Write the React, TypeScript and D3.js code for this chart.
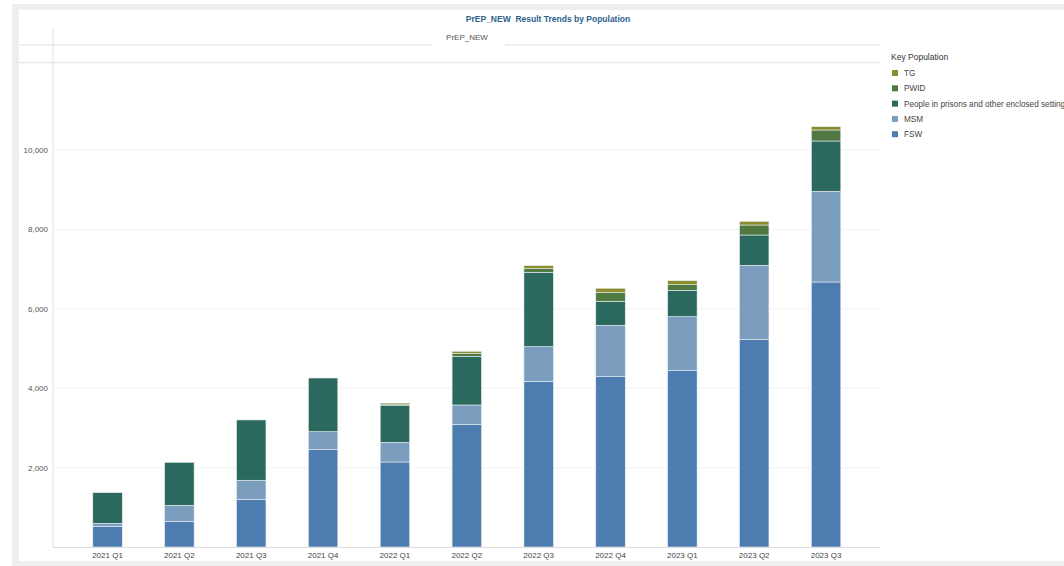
import React from "react";
import * as d3 from "d3";

const quarters = ["2021 Q1","2021 Q2","2021 Q3","2021 Q4","2022 Q1","2022 Q2","2022 Q3","2022 Q4","2023 Q1","2023 Q2","2023 Q3"];
const fsw = [521, 647, 1202, 2451, 2141, 3091, 4174, 4290, 4441, 5232, 6675];
const msm = [76, 403, 479, 453, 496, 486, 872, 1295, 1360, 1864, 2285];
const prisons = [771, 1083, 1519, 1353, 922, 1227, 1874, 605, 665, 763, 1267];
const pwid = [0, 0, 0, 0, 40, 76, 91, 227, 141, 252, 277];
const tg = [0, 0, 0, 0, 28, 50, 76, 101, 101, 93, 83];
const yTicks = [2000, 4000, 6000, 8000, 10000];

const seriesKeys = ["FSW", "MSM", "People in prisons and other enclosed settings", "PWID", "TG"];
const seriesColors = ["#4d7db0", "#7a9dbe", "#2b695e", "#4f7940", "#8b8c2d"];
const legendOrder = ["TG", "PWID", "People in prisons and other enclosed settings", "MSM", "FSW"];

const FONT = "'Liberation Sans', Arial, sans-serif";

export default function App() {
  const W = 1064, H = 566;
  const left = 53, right = 880, base = 547;
  const rows = quarters.map((q, i) => ({
    q,
    "FSW": fsw[i],
    "MSM": msm[i],
    "People in prisons and other enclosed settings": prisons[i],
    "PWID": pwid[i],
    "TG": tg[i],
  }));
  const stack = d3.stack<any>().keys(seriesKeys)(rows);
  const x = d3.scaleBand().domain(quarters).range([71.6, 862]).paddingInner(0.59).paddingOuter(0.295);
  const y = d3.scaleLinear().domain([0, 12000]).range([base, base - 12000 * 0.0397]);
  const color = d3.scaleOrdinal<string, string>().domain(seriesKeys).range(seriesColors);
  const fmt = d3.format(",");

  return (
    <svg width={W} height={H} style={{ position: "absolute", left: 0, top: 0, display: "block" }} fontFamily={FONT}>
      <rect x={0} y={0} width={W} height={H} fill="#ffffff" />
      <rect x={12} y={4} width={W - 12} height={H - 4} fill="#eeeeee" />
      <rect x={19} y={10} width={W - 19} height={551} fill="#ffffff" />
      <text x={548} y={22} textAnchor="middle" fontSize={8.5} fontWeight="bold" fill="#2e5f8c">
        PrEP_NEW{"\u00a0\u00a0"}Result Trends by Population
      </text>
      {/* header lines */}
      <line x1={19} x2={432} y1={45} y2={45} stroke="#e8e8e8" strokeWidth={1.5} />
      <line x1={505} x2={880} y1={45} y2={45} stroke="#e8e8e8" strokeWidth={1.5} />
      <line x1={19} x2={880} y1={62.5} y2={62.5} stroke="#e8e8e8" strokeWidth={1.5} />
      <text x={467} y={40} textAnchor="middle" fontSize={8} fill="#555">PrEP_NEW</text>
      {/* vertical axis line */}
      <line x1={53} x2={53} y1={29} y2={base} stroke="#e6e6e6" strokeWidth={1.2} />
      {/* grid + y labels */}
      {yTicks.map((t) => (
        <g key={t}>
          <line x1={left} x2={right} y1={y(t)} y2={y(t)} stroke="#f2f2f2" strokeWidth={1} />
          <text x={48} y={y(t) + 3} textAnchor="end" fontSize={8} fill="#555">{fmt(t)}</text>
        </g>
      ))}
      {/* bars */}
      {stack.map((s) => (
        <g key={s.key} fill={color(s.key)}>
          {s.map((d: any, i: number) => {
            const h = y(d[0]) - y(d[1]);
            if (h <= 0) return null;
            return (
              <rect key={i} x={x(quarters[i])!} y={y(d[1])} width={x.bandwidth()} height={h}
                stroke="#e8eef4" strokeWidth={0.6} />
            );
          })}
        </g>
      ))}
      {/* x axis */}
      <line x1={left} x2={right} y1={base + 0.5} y2={base + 0.5} stroke="#dddddd" strokeWidth={1} />
      {quarters.map((q) => (
        <text key={q} x={x(q)! + x.bandwidth() / 2} y={558} textAnchor="middle" fontSize={8} fill="#444">{q}</text>
      ))}
      {/* legend */}
      <text x={891} y={60} fontSize={8.5} fill="#333">Key Population</text>
      {legendOrder.map((k, i) => (
        <g key={k} transform={`translate(892, ${70 + i * 15.3})`}>
          <rect x={0} y={0} width={6} height={6} fill={color(k)} />
          <text x={12} y={6} fontSize={8.2} fill="#444">{k}</text>
        </g>
      ))}
    </svg>
  );
}
